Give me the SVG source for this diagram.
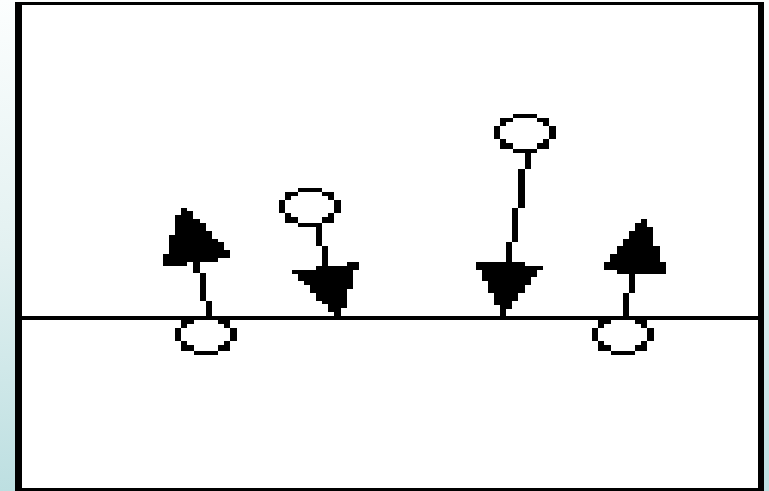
<svg xmlns="http://www.w3.org/2000/svg" width="769" height="491" viewBox="0 0 769 491" shape-rendering="crispEdges">
  <style>
    .ink { fill: #000; }
    .ring { fill: #000; fill-rule: evenodd; }
  </style>
  <defs>
    <linearGradient id="bg" x1="0" y1="0" x2="0" y2="1">
      <stop offset="0" stop-color="#fcfefe"/>
      <stop offset="0.5" stop-color="#e3f1f1"/>
      <stop offset="1" stop-color="#bddfe1"/>
    </linearGradient>
    <path id="oval" class="ring" d="M19 0H43V4H55V12H62V25H55V35H43V39H19V35H6V25H0V12H6V4H19Z M19 4V8H12V12H6V25H12V29H19V35H43V29H49V25H55V12H49V8H43V4Z"/>
  </defs>
  <rect id="background" width="769" height="491" fill="url(#bg)"/>
  <g id="frame">
    <rect x="15" y="2" width="749" height="489" class="ink"/>
    <rect x="22" y="5" width="736" height="483" fill="#fff"/>
  </g>
  <rect id="baseline" x="22" y="316" width="736" height="4" class="ink"/>
  <g id="connectors" class="ink">
    <path d="M193 262H200V273H206V301H212V317H206V301H200V273H193Z"/>
    <path d="M316 223H322V246H328V266H322V246H316Z"/>
    <path d="M525 153H531V169H525V208H518V242H512V262H506V242H512V208H518V169H525Z"/>
    <path d="M629 274H635V293H629V317H623V293H629Z"/>
  </g>
  <g id="node-up-1">
    <polygon class="ink" points="181,208 187,208 187,211 193,211 193,219 200,219 200,223 206,223 206,231 212,231 212,239 218,239 218,242 224,242 224,250 230,250 230,258 218,258 218,262 187,262 187,266 163,266 163,254 169,254 169,235 175,235 175,215 181,215"/>
    <use href="#oval" x="175" y="316"/>
  </g>
  <g id="node-down-1">
    <use href="#oval" x="279" y="188"/>
    <polygon class="ink" points="316,266 347,266 347,262 359,262 359,270 353,270 353,289 347,289 347,308 341,308 341,320 334,320 334,312 328,312 328,304 322,304 322,301 316,301 316,293 310,293 310,285 304,285 304,281 298,281 298,274 292,274 292,270 316,270"/>
  </g>
  <g id="node-down-2">
    <use href="#oval" x="494" y="114"/>
    <polygon class="ink" points="476,262 525,262 525,266 543,266 543,270 537,270 537,277 531,277 531,285 525,285 525,293 518,293 518,301 512,301 512,309 506,309 506,320 500,320 500,305 494,305 494,293 488,293 488,281 482,281 482,270 476,270"/>
  </g>
  <g id="node-up-2">
    <polygon class="ink" points="641,219 647,219 647,227 653,227 653,246 660,246 660,262 666,262 666,274 617,274 617,270 604,270 604,262 610,262 610,254 617,254 617,246 623,246 623,239 629,239 629,231 635,231 635,223 641,223"/>
    <use href="#oval" x="592" y="316"/>
  </g>
</svg>
